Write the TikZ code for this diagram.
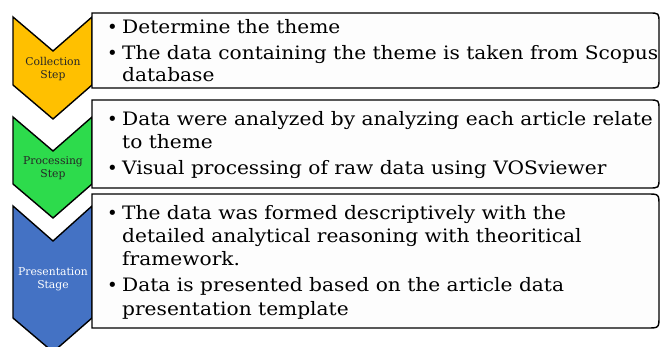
\documentclass[tikz,border=0pt]{standalone}
\usepackage{fontspec}
\setmainfont{DejaVu Serif}
\newfontfamily\widefont[FakeStretch=1.09]{DejaVu Serif}
\definecolor{cyell}{HTML}{FFC000}
\definecolor{cgreen}{HTML}{2DDB4C}
\definecolor{cblue}{HTML}{4472C4}
\definecolor{boxfill}{HTML}{FDFDFD}
\begin{document}
\begin{tikzpicture}[x=1pt,y=-1pt,
  chev/.style={draw=black,line width=1.4pt,line join=miter},
  stepbox/.style={draw=black,line width=1.4pt,fill=boxfill},
  steplabel/.style={font=\fontsize{10.8}{13}\selectfont,align=center,inner sep=0pt},
  txt/.style={font=\widefont\fontsize{18.5}{22}\selectfont,anchor=base west,inner sep=0pt},
  bul/.style={font=\fontsize{18}{22}\selectfont,anchor=base west,inner sep=0pt}]
\useasboundingbox (0,0) rectangle (660,347);
% chevrons
\draw[chev,fill=cyell] (13,17) -- (53,51) -- (92,17) -- (92,85) -- (53,119) -- (13,85) -- cycle;
\draw[chev,fill=cgreen] (13,117) -- (53,151) -- (92,117) -- (92,184) -- (53,218) -- (13,184) -- cycle;
\draw[chev,fill=cblue] (13,206) -- (53,241) -- (92,206) -- (92,318) -- (53,352) -- (13,318) -- cycle;
\node[steplabel,text=black!85] (l1) at (53,69) {Collection\\Step};
\node[steplabel,text=black!85] (l2) at (53,168) {Processing\\Step};
\node[steplabel,text=white] (l3) at (53,279) {Presentation\\Stage};
% boxes
\draw[stepbox] (92,13) -- (649,13) .. controls (659,13) .. (659,23) -- (659,78) .. controls (659,88) .. (649,88) -- (92,88) -- cycle;
\draw[stepbox] (92,100) -- (649,100) .. controls (659,100) .. (659,110) -- (659,178) .. controls (659,188) .. (649,188) -- (92,188) -- cycle;
\draw[stepbox] (92,194) -- (647,194) .. controls (659,194) .. (659,206) -- (659,316) .. controls (659,328) .. (647,328) -- (92,328) -- cycle;
% box 1 text
\node[bul] (b11) at (107,33.3) {\textbullet};
\node[txt] (t11) at (122,33.3) {Determine the theme};
\node[bul] (b12) at (107,59.3) {\textbullet};
\node[txt] (t12) at (122,59.3) {The data containing the theme is taken from Scopus};
\node[txt] (t13) at (122,81.7) {database};
% box 2 text
\node[bul] (b21) at (107,125.7) {\textbullet};
\node[txt] (t21) at (122,125.7) {Data were analyzed by analyzing each article relate};
\node[txt] (t22) at (122,148.3) {to theme};
\node[bul] (b22) at (107,175) {\textbullet};
\node[txt] (t23) at (122,175) {Visual processing of raw data using VOSviewer};
% box 3 text
\node[bul] (b31) at (107,219) {\textbullet};
\node[txt] (t31) at (122,219) {The data was formed descriptively with the};
\node[txt] (t32) at (122,242.3) {detailed analytical reasoning with theoritical};
\node[txt] (t33) at (122,265) {framework.};
\node[bul] (b32) at (107,291.7) {\textbullet};
\node[txt] (t34) at (122,291.7) {Data is presented based on the article data};
\node[txt] (t35) at (122,315) {presentation template};
\end{tikzpicture}
\end{document}
